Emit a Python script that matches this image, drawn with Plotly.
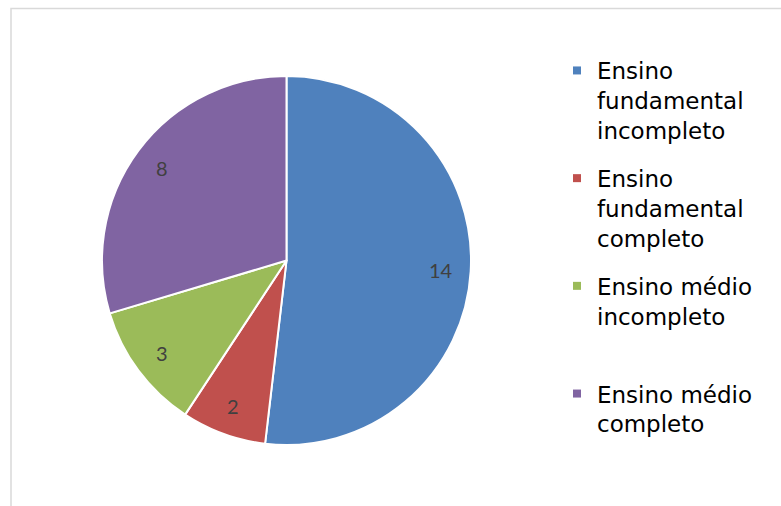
import math
import plotly.graph_objects as go

W, H = 781, 506
labels = ["Ensino<br>fundamental<br>incompleto",
          "Ensino<br>fundamental<br>completo",
          "Ensino médio<br>incompleto<br> ",
          "Ensino médio<br>completo"]
values = [14, 2, 3, 8]
colors = ["#4F81BD", "#C0504D", "#9BBB59", "#8064A2"]

dom_x = [102/W, 471/W]
dom_y = [1-445/H, 1-76/H]

fig = go.Figure()
fig.add_trace(go.Pie(
    labels=labels, values=values, sort=False, direction="clockwise", rotation=0,
    marker=dict(colors=colors, line=dict(color="white", width=2)),
    textinfo="none", showlegend=False,
    domain=dict(x=dom_x, y=dom_y),
    hoverinfo="label+value",
))

# legend entries (square markers)
for i, (lab, c) in enumerate(zip(labels, colors)):
    fig.add_trace(go.Scatter(x=[None], y=[None], mode="markers", name=lab,
                             marker=dict(symbol="square", size=8, color=c),
                             legendgroup=str(i), showlegend=True))

# data labels at slice mid-angles (computed from values)
cx_px = (dom_x[0] + dom_x[1]) / 2 * W
cy_px = (1 - (dom_y[0] + dom_y[1]) / 2) * H
R = min((dom_x[1]-dom_x[0])*W, (dom_y[1]-dom_y[0])*H) / 2
total = sum(values)
annotations = []
cum = 0
for v in values:
    mid = (cum + v / 2) / total * 2 * math.pi
    cum += v
    rr = 0.84 * R
    px = cx_px + rr * math.sin(mid)
    py = cy_px - rr * math.cos(mid)
    annotations.append(dict(x=px / W, y=1 - py / H, xref="paper", yref="paper",
                            xanchor="center", yanchor="middle",
                            text=str(v), showarrow=False,
                            font=dict(family="Lato, Open Sans, sans-serif", size=20, color="#404040")))

fig.update_layout(
    width=W, height=H, margin=dict(l=0, r=0, t=0, b=0),
    paper_bgcolor="white", plot_bgcolor="white",
    xaxis=dict(visible=False), yaxis=dict(visible=False),
    showlegend=True,
    legend=dict(x=557/W, y=1-49/H, xanchor="left", yanchor="top", valign="top",
                font=dict(family="DejaVu Sans, sans-serif", size=23, color="#000000"),
                tracegroupgap=15, bgcolor="rgba(0,0,0,0)"),
    annotations=annotations,
    shapes=[dict(type="rect", xref="paper", yref="paper",
                 x0=11/W, y0=1-8.5/H, x1=1.02, y1=-0.02,
                 line=dict(color="#D9D9D9", width=1.5), fillcolor="rgba(0,0,0,0)")],
)
fig.write_html("out.html")
